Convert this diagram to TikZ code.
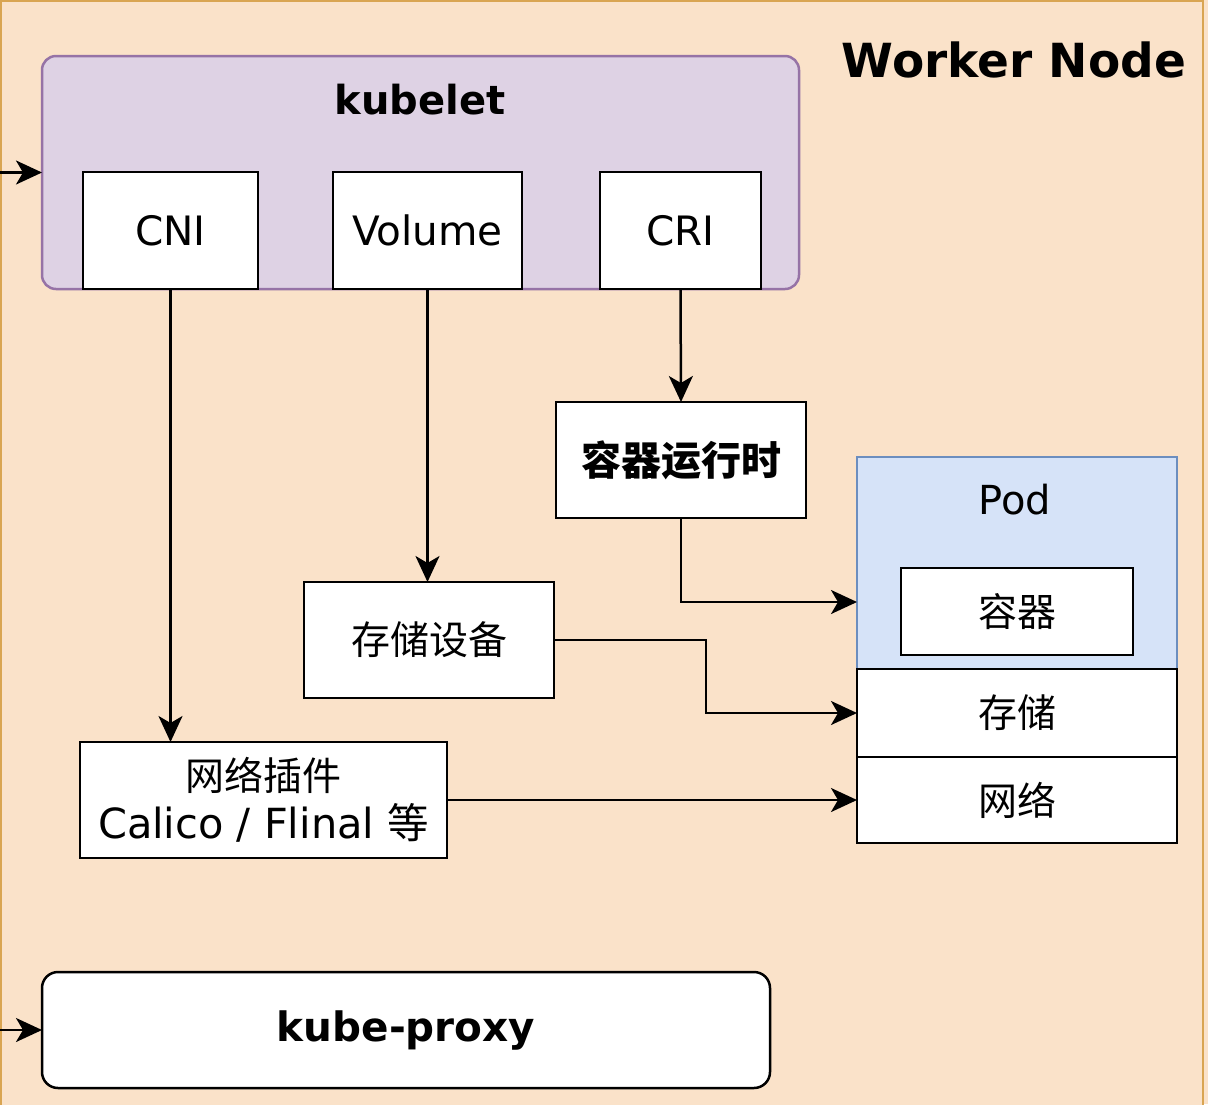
\documentclass[tikz,border=0pt]{standalone}
\usepackage{fontspec}
\setmainfont{DejaVu Sans}
\newfontfamily\cjk{Noto Sans CJK SC}
\usetikzlibrary{arrows.meta,calc}
\definecolor{peach}{HTML}{FAE2C9}
\definecolor{frameor}{HTML}{D9A552}
\definecolor{kfill}{HTML}{DED2E4}
\definecolor{kline}{HTML}{9673A6}
\definecolor{pfill}{HTML}{D6E3F8}
\definecolor{pline}{HTML}{6C8EBF}
\tikzset{
  box/.style={draw=black, line width=2.5pt, fill=white, inner sep=0pt, outer sep=0pt, align=center, font=\fontsize{40.5}{48}\selectfont},
  cjkbox/.style={box, font=\cjk\fontsize{39}{48}\selectfont},
  lbl/.style={inner sep=0pt, outer sep=0pt},
  arr/.style={line width=2.5pt, -{Stealth[length=26pt,width=24pt,inset=7pt]}},
}
\begin{document}
\begin{tikzpicture}[x=1pt,y=-1pt]
\useasboundingbox (0,0) rectangle (1208,1104);
\fill[peach] (0,0) rectangle (1208,1104);
\draw[frameor, line width=2.5pt, fill=peach] (1,1) rectangle (1203,1130);

% kubelet
\node[draw=kline, fill=kfill, line width=2.5pt, rounded corners=14pt, minimum width=757pt, minimum height=233pt, inner sep=0pt, outer sep=0pt] (kubelet) at (420.5,172.5) {};
\node[lbl, font=\bfseries\fontsize{40}{48}\selectfont] (kubeletlbl) at (420,100) {kubelet};
\node[box, minimum width=175pt, minimum height=117pt] (cni) at (170.5,230.5) {CNI};
\node[box, minimum width=189pt, minimum height=117pt] (vol) at (427.5,230.5) {Volume};
\node[box, minimum width=161pt, minimum height=117pt] (cri) at (680.5,230.5) {CRI};

\node[lbl, anchor=east, font=\bfseries\fontsize{47}{56}\selectfont] (wn) at (1186,60) {Worker Node};

% runtime
\node[cjkbox, font=\cjk\bfseries\fontsize{40}{48}\selectfont, minimum width=250pt, minimum height=116pt] (rt) at (681,460) {容器运行时};

% pod
\node[draw=pline, fill=pfill, line width=2.5pt, minimum width=320pt, minimum height=212pt, inner sep=0pt, outer sep=0pt] (pod) at (1017,563) {};
\node[lbl, font=\fontsize{40}{48}\selectfont] (podlbl) at (1015,500) {Pod};
\node[cjkbox, minimum width=232pt, minimum height=87pt] (ctr) at (1017,611.5) {容器};
\node[cjkbox, minimum width=320pt, minimum height=88pt] (stor) at (1017,713) {存储};
\node[cjkbox, minimum width=320pt, minimum height=86pt] (net) at (1017,800) {网络};

% storage device
\node[cjkbox, minimum width=250pt, minimum height=116pt] (dev) at (429,640) {存储设备};

% network plugin
\node[box, minimum width=367pt, minimum height=116pt, font=\fontsize{41.5}{48}\selectfont] (plug) at (263.5,800) {{\cjk\fontsize{39}{48}\selectfont 网络插件}\\Calico / Flinal {\cjk 等}};

% kube-proxy
\node[box, rounded corners=16pt, minimum width=728pt, minimum height=116pt, font=\bfseries\fontsize{40.5}{48}\selectfont] (proxy) at (406,1030) {kube-proxy};

% connectors
\coordinate (in1) at (0,172.5);
\coordinate (in2) at (0,1030);
\draw[arr] (in1) -- (kubelet.west);
\draw[arr] (in2) -- (proxy.west);
\draw[arr] (cri.south) -- (rt.north);
\draw[arr] (rt.south) |- ([yshift=-39pt]pod.west);
\draw[arr] (vol.south) -- (vol.south |- dev.north);
\draw[arr] (dev.east) -- ++(152,0) |- (stor.west);
\draw[arr] (cni.south) -- (cni.south |- plug.north);
\draw[arr] (plug.east) -- (net.west);
\end{tikzpicture}
\end{document}
